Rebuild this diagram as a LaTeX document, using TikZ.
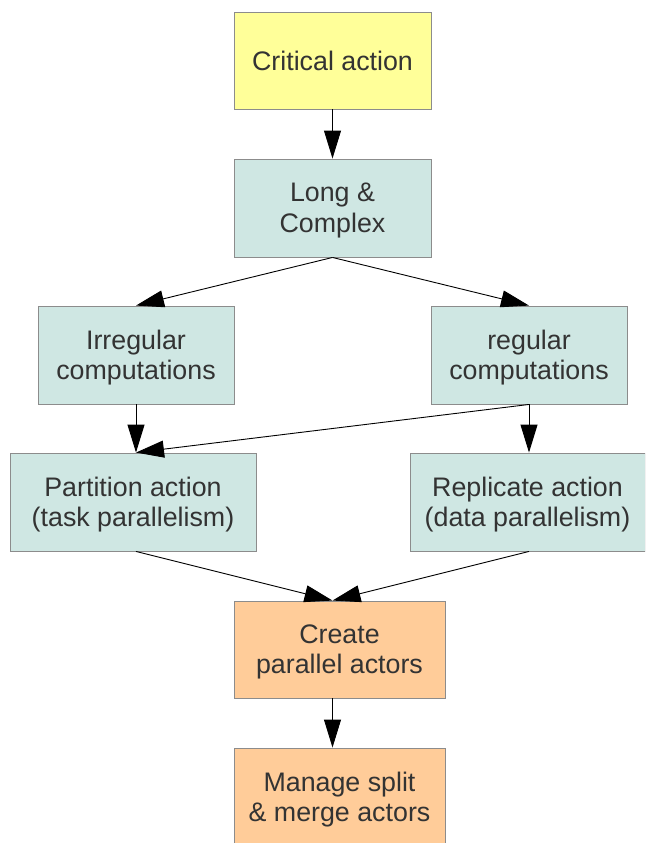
\documentclass[tikz,border=0pt]{standalone}
\usepackage{fontspec}
\setmainfont{Liberation Sans}
\usetikzlibrary{arrows.meta}
\definecolor{critfill}{HTML}{FFFF99}
\definecolor{stepfill}{HTML}{CFE7E3}
\definecolor{actfill}{HTML}{FFCC99}
\definecolor{boxline}{HTML}{8C8C8C}
\definecolor{boxtext}{HTML}{333333}
\tikzset{
  box/.style={draw=boxline, line width=0.9pt, rectangle, inner sep=0pt},
  caption/.style={align=center, text=boxtext, inner sep=0pt, yshift=-2.5pt,
    font=\fontsize{26.8}{30.5}\selectfont},
  flow/.style={draw=black, line width=0.9pt,
    -{Triangle[length=28pt,width=17pt]}}
}
\begin{document}
\begin{tikzpicture}[x=1pt,y=-1pt]
\useasboundingbox (0,0) rectangle (645,843);
\clip (0,0) rectangle (645,843);
\fill[white] (0,0) rectangle (645,843);

% process steps
\node[box, fill=critfill, minimum width=197pt, minimum height=97pt,
  label={[caption, yshift=2pt]center:Critical action}] (crit) at (332.5,60.5) {};
\node[box, fill=stepfill, minimum width=197pt, minimum height=98pt,
  label={[caption]center:Long \&\\Complex}] (long) at (332.5,208) {};
\node[box, fill=stepfill, minimum width=196pt, minimum height=98pt,
  label={[caption]center:Irregular\\computations}] (irr) at (136,355) {};
\node[box, fill=stepfill, minimum width=196pt, minimum height=98pt,
  label={[caption]center:regular\\computations}] (reg) at (529,355) {};
\node[box, fill=stepfill, minimum width=246pt, minimum height=98pt,
  label={[caption]center:Partition action\\(task parallelism)}] (part) at (133,502) {};
\node[box, fill=stepfill, minimum width=235pt, minimum height=98pt,
  label={[caption]center:Replicate action\\(data parallelism)}] (repl) at (527.5,502) {};
\node[box, fill=actfill, minimum width=211pt, minimum height=97pt,
  label={[caption]center:Create\\parallel actors}] (create) at (339.5,649.5) {};
\node[box, fill=actfill, minimum width=211pt, minimum height=98pt,
  label={[caption]center:Manage split\\\& merge actors}] (manage) at (339.5,797) {};

% connectors
\draw[flow] (crit.south) -- (long.north);
\draw[flow] (long.south) -- (irr.north);
\draw[flow] (long.south) -- (reg.north);
\draw[flow] (irr.south) -- (irr.south |- part.north);
\draw[flow] (reg.south) -- (irr.south |- part.north);
\draw[flow] (reg.south) -- (reg.south |- repl.north);
\draw[flow] (irr.south |- part.south) -- (long.south |- create.north);
\draw[flow] (reg.south |- repl.south) -- (long.south |- create.north);
\draw[flow] (long.south |- create.south) -- (long.south |- manage.north);
\end{tikzpicture}
\end{document}
